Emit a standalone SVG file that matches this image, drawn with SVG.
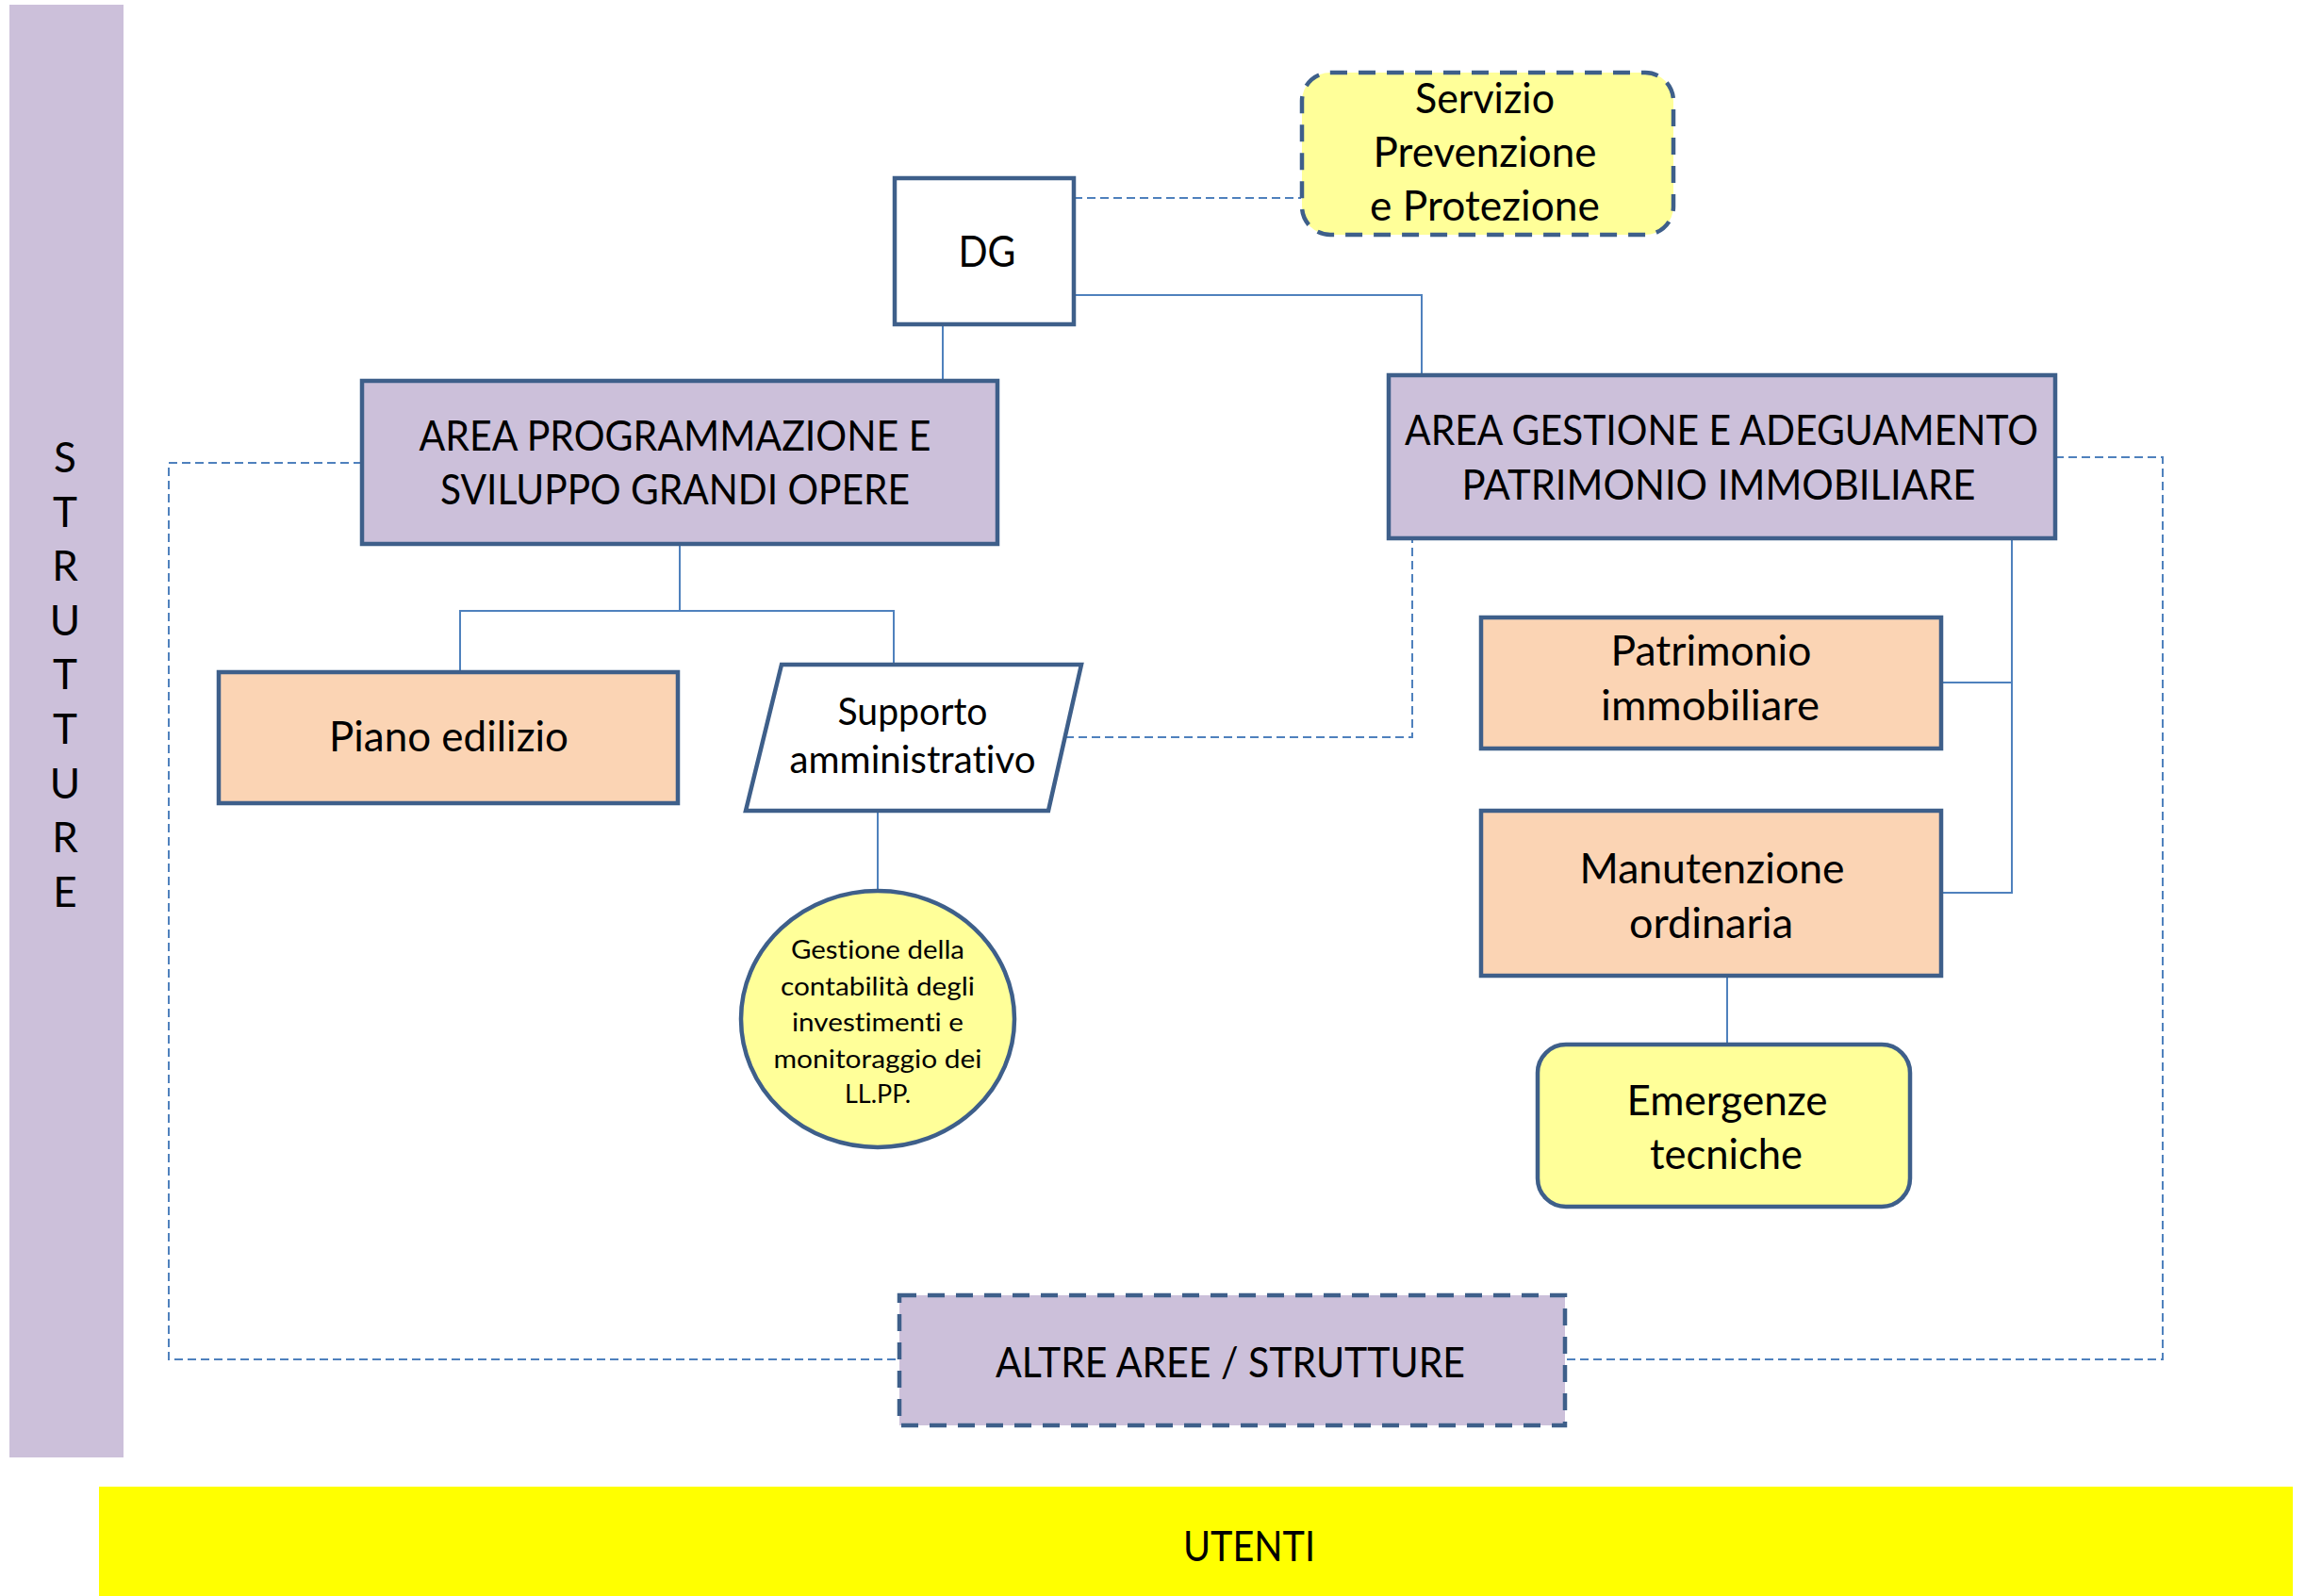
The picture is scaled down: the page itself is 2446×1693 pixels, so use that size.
<svg xmlns="http://www.w3.org/2000/svg" width="2446" height="1693" viewBox="0 0 2446 1693">
<style>
text{font-family:Lato,"Liberation Sans",sans-serif;fill:#000;text-anchor:middle;font-variant-ligatures:none}
.t{font-size:44px}
.box{stroke:#3E5F8A;stroke-width:4.5}
.purple{fill:#CCC0DA}
.peach{fill:#FBD4B4}
.yel{fill:#FFFF99}
.dbox{stroke-dasharray:18 12}
.con{fill:none;stroke:#4F81BD;stroke-width:2}
.dcon{fill:none;stroke:#4F81BD;stroke-width:2;stroke-dasharray:9 5}
</style>
<rect width="2446" height="1693" fill="#fff"/>
<g id="strutture">
<rect x="10" y="5" width="121" height="1541" fill="#CCC0DA"/>
<g class="t">
<text x="69" y="501">S</text>
<text x="69" y="559">T</text>
<text x="69" y="616">R</text>
<text x="69" y="674">U</text>
<text x="69" y="731">T</text>
<text x="69" y="789">T</text>
<text x="69" y="847">U</text>
<text x="69" y="904">R</text>
<text x="69" y="962">E</text>
</g>
</g>
<g id="utenti">
<rect x="105" y="1577" width="2327" height="116" fill="#FFFF00"/>
<text class="t" x="1325" y="1656" textLength="140" lengthAdjust="spacingAndGlyphs">UTENTI</text>
</g>
<g id="connectors">
<path class="dcon" d="M1139 210H1380"/>
<path class="con" d="M1139 313H1508V398"/>
<path class="con" d="M1000 345V404"/>
<path class="con" d="M721 577V648M488 713V648H948V705"/>
<path class="con" d="M931 860V946"/>
<path class="dcon" d="M1130 782H1498V571"/>
<path class="con" d="M2134 571V947H2059M2059 724H2134"/>
<path class="con" d="M1832 1035V1108"/>
<path class="dcon" d="M384 491H179V1442H953"/>
<path class="dcon" d="M2180 485H2294V1442H1660"/>
</g>
<g id="servizio">
<rect class="box yel dbox" x="1381" y="77" width="394" height="172" rx="30"/>
<text class="t" x="1575" y="120" textLength="148" lengthAdjust="spacingAndGlyphs">Servizio</text>
<text class="t" x="1575" y="177" textLength="237" lengthAdjust="spacingAndGlyphs">Prevenzione</text>
<text class="t" x="1575" y="234" textLength="244" lengthAdjust="spacingAndGlyphs">e Protezione</text>
</g>
<g id="dg">
<rect class="box" fill="#fff" x="949" y="189" width="190" height="155"/>
<text x="1047" y="283" style="font-size:47px" textLength="61" lengthAdjust="spacingAndGlyphs">DG</text>
</g>
<g id="area-prog">
<rect class="box purple" x="384" y="404" width="674" height="173"/>
<text class="t" x="716" y="478" textLength="543" lengthAdjust="spacingAndGlyphs">AREA PROGRAMMAZIONE E</text>
<text class="t" x="716" y="535" textLength="498" lengthAdjust="spacingAndGlyphs">SVILUPPO GRANDI OPERE</text>
</g>
<g id="area-gest">
<rect class="box purple" x="1473" y="398" width="707" height="173"/>
<text class="t" x="1826" y="472" textLength="672" lengthAdjust="spacingAndGlyphs">AREA GESTIONE E ADEGUAMENTO</text>
<text class="t" x="1823" y="530" textLength="545" lengthAdjust="spacingAndGlyphs">PATRIMONIO IMMOBILIARE</text>
</g>
<g id="piano">
<rect class="box peach" x="232" y="713" width="487" height="139"/>
<text class="t" x="476" y="797" textLength="254" lengthAdjust="spacingAndGlyphs">Piano edilizio</text>
</g>
<g id="supporto">
<polygon class="box" fill="#fff" points="829,705 1147,705 1112,860 791,860"/>
<text x="968" y="769" style="font-size:40px" textLength="159" lengthAdjust="spacingAndGlyphs">Supporto</text>
<text x="968" y="820" style="font-size:40px" textLength="261" lengthAdjust="spacingAndGlyphs">amministrativo</text>
</g>
<g id="gestione-contabilita">
<ellipse class="box yel" cx="931" cy="1081" rx="145" ry="136"/>
<g style="font-size:27px">
<text x="931" y="1017" textLength="184" lengthAdjust="spacingAndGlyphs">Gestione della</text>
<text x="931" y="1056" textLength="206" lengthAdjust="spacingAndGlyphs">contabilità degli</text>
<text x="931" y="1094" textLength="182" lengthAdjust="spacingAndGlyphs">investimenti e</text>
<text x="931" y="1133" textLength="221" lengthAdjust="spacingAndGlyphs">monitoraggio dei</text>
<text x="931" y="1170" textLength="70" lengthAdjust="spacingAndGlyphs">LL.PP.</text>
</g>
</g>
<g id="patrimonio">
<rect class="box peach" x="1571" y="655" width="488" height="139"/>
<text class="t" x="1815" y="706" textLength="213" lengthAdjust="spacingAndGlyphs">Patrimonio</text>
<text class="t" x="1814" y="764" textLength="232" lengthAdjust="spacingAndGlyphs">immobiliare</text>
</g>
<g id="manutenzione">
<rect class="box peach" x="1571" y="860" width="488" height="175"/>
<text class="t" x="1816" y="937" textLength="281" lengthAdjust="spacingAndGlyphs">Manutenzione</text>
<text class="t" x="1815" y="995" textLength="174" lengthAdjust="spacingAndGlyphs">ordinaria</text>
</g>
<g id="emergenze">
<rect class="box yel" x="1631" y="1108" width="395" height="172" rx="30"/>
<text class="t" x="1832" y="1183" textLength="213" lengthAdjust="spacingAndGlyphs">Emergenze</text>
<text class="t" x="1831" y="1240" textLength="162" lengthAdjust="spacingAndGlyphs">tecniche</text>
</g>
<g id="altre">
<rect class="box purple dbox" x="954" y="1374" width="706" height="138"/>
<text class="t" x="1305" y="1461" textLength="498" lengthAdjust="spacingAndGlyphs">ALTRE AREE / STRUTTURE</text>
</g>
</svg>
